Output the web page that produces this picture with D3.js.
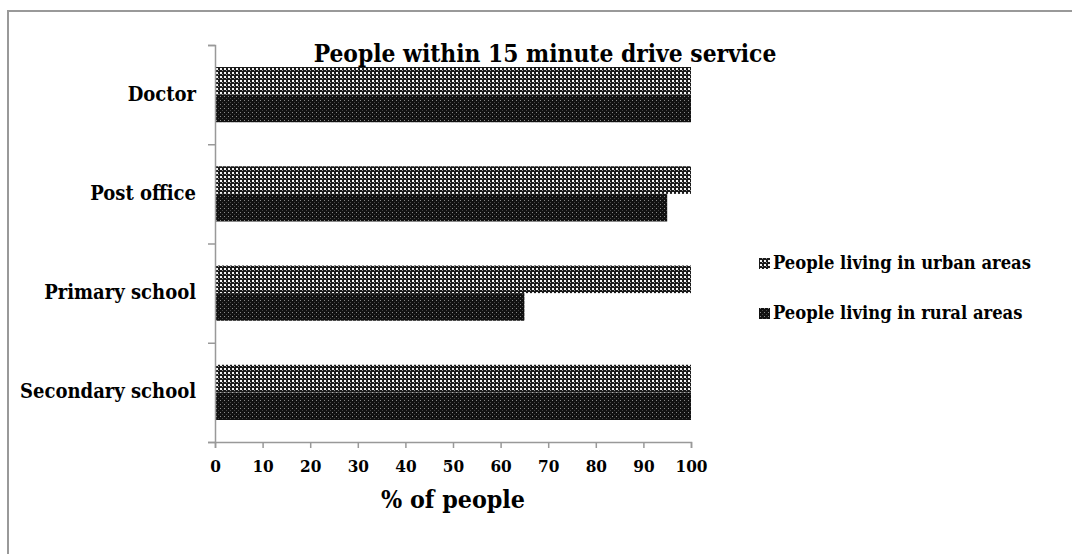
<!DOCTYPE html>
<html><head><meta charset="utf-8">
<script src="https://cdn.jsdelivr.net/npm/d3@7"></script>
<style>body{margin:0;background:#fff}svg{display:block}</style>
</head><body>
<svg id="c" width="1072" height="554"></svg>
<script>
const categories = ["Doctor", "Post office", "Primary school", "Secondary school"];
const seriesNames = ["People living in urban areas", "People living in rural areas"];
const urbanValues = [100, 100, 100, 100];
const ruralValues = [100, 95, 65, 100];
const xTicks = [0, 10, 20, 30, 40, 50, 60, 70, 80, 90, 100];
const titleText = "People within 15 minute drive service";
const xAxisTitle = "% of people";

const svg = d3.select("#c");
const font = "'DejaVu Serif Condensed', 'DejaVu Serif', serif";
function fitSize(str, target, base) {
  const t = svg.append("text").attr("font-family",font).attr("font-weight","bold").attr("font-size",base).text(str);
  const w = t.node().getComputedTextLength();
  t.remove();
  return base * target / w;
}
const labelSize = fitSize("Secondary school", 176, 16);
const titleSize = fitSize(titleText, 463, 20);
const legendSize = fitSize(seriesNames[0], 258, 16);
const axisTitleSize = fitSize(xAxisTitle, 144, 20);
const tickSize = fitSize("100", 32, 16);

const defs = svg.append("defs");
const pu = defs.append("pattern").attr("id","pu").attr("patternUnits","userSpaceOnUse").attr("width",4).attr("height",4);
pu.append("rect").attr("width",4).attr("height",4).attr("fill","#1a1a1a");
pu.append("rect").attr("x",0).attr("y",0).attr("width",2).attr("height",2).attr("fill","#f4f4f4");
pu.append("rect").attr("x",2).attr("y",2).attr("width",1).attr("height",1).attr("fill","#999");
const pr = defs.append("pattern").attr("id","pr").attr("patternUnits","userSpaceOnUse").attr("width",4).attr("height",4);
pr.append("rect").attr("width",4).attr("height",4).attr("fill","#111");
pr.append("rect").attr("x",0).attr("y",0).attr("width",1).attr("height",1).attr("fill","#888");
pr.append("rect").attr("x",2).attr("y",2).attr("width",1).attr("height",1).attr("fill","#444");
const fills = ["url(#pu)", "url(#pr)"];

svg.append("path").attr("d","M8,560 L8,11 L1080,11").attr("fill","none").attr("stroke","#999").attr("stroke-width",2);

const x = d3.scaleLinear().domain([0,100]).range([215,691]);
const y = d3.scaleBand().domain(categories).range([45,442]);
const inner = d3.scaleBand().domain(seriesNames).range([22, y.bandwidth()-22]);

const g = svg.append("g");
categories.forEach((c,i)=>{
  [urbanValues[i], ruralValues[i]].forEach((v,j)=>{
    g.append("rect")
      .attr("x", x(0)).attr("y", y(c)+inner(seriesNames[j]))
      .attr("width", x(v)-x(0)).attr("height", inner.bandwidth())
      .attr("fill", fills[j]);
  });
});

const xa = svg.append("g").attr("transform","translate(0,442)")
  .call(d3.axisBottom(x).tickValues(xTicks).tickSize(6).tickSizeOuter(6).tickPadding(12));
xa.select(".domain").attr("stroke","#999").attr("stroke-width",1.5);
xa.selectAll(".tick line").attr("stroke","#999").attr("stroke-width",1.5);
xa.selectAll("text").attr("font-family",font).attr("font-weight","bold").attr("font-size",tickSize).attr("fill","#000");

const yb = d3.scaleLinear().domain([0,4]).range([45,442]);
const ya = svg.append("g").attr("transform","translate(215,0)")
  .call(d3.axisLeft(yb).ticks(4).tickSize(7).tickSizeOuter(7).tickFormat(""));
ya.select(".domain").attr("stroke","#999").attr("stroke-width",1.5);
ya.selectAll(".tick line").attr("stroke","#999").attr("stroke-width",1.5);

svg.append("g").selectAll("text").data(categories).join("text")
  .attr("x",196).attr("y",d=>y(d)+y.bandwidth()/2+6)
  .attr("text-anchor","end").attr("font-family",font).attr("font-weight","bold").attr("font-size",labelSize)
  .text(d=>d);

svg.append("text").attr("x",545).attr("y",62).attr("text-anchor","middle")
  .attr("font-family",font).attr("font-weight","bold").attr("font-size",titleSize).text(titleText);

svg.append("text").attr("x",453).attr("y",508).attr("text-anchor","middle")
  .attr("font-family",font).attr("font-weight","bold").attr("font-size",axisTitleSize).text(xAxisTitle);

const lg = svg.append("g");
seriesNames.forEach((s,i)=>{
  const yy = 258 + i*50;
  lg.append("rect").attr("x",759).attr("y",yy).attr("width",11).attr("height",11).attr("fill",fills[i]);
  lg.append("text").attr("x",773).attr("y",yy+11).attr("font-family",font).attr("font-weight","bold")
    .attr("font-size",legendSize).text(s);
});
</script>
</body></html>
